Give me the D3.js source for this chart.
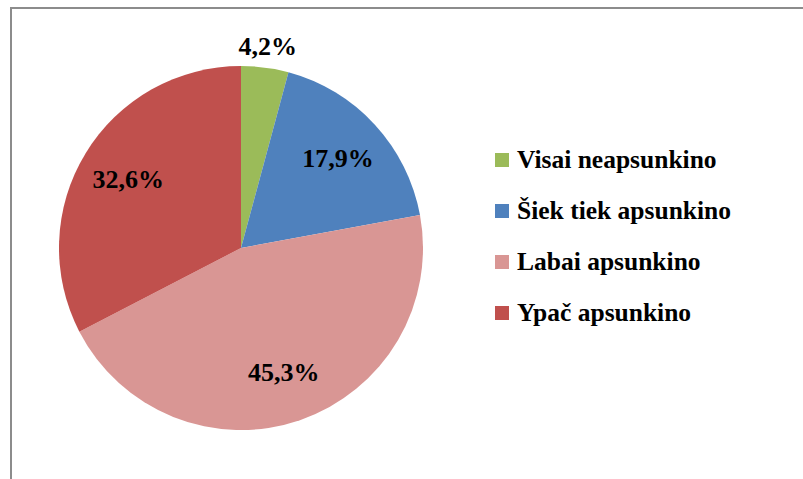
<!DOCTYPE html>
<meta charset="utf-8">
<script src="https://d3js.org/d3.v7.min.js"></script>
<style>
  body { margin: 0; background: #fff; }
</style>
<div id="my_dataviz"></div>
<script>
// chart data
var categories = ["Visai neapsunkino", "Šiek tiek apsunkino", "Labai apsunkino", "Ypač apsunkino"];
var values = [4.2, 17.9, 45.3, 32.6];
var labels = ["4,2%", "17,9%", "45,3%", "32,6%"];
var colors = ["#9BBB59", "#4F81BD", "#D99694", "#C0504D"];

var width = 803, height = 479,
    cx = 241, cy = 248,
    radius = 182;

var svg = d3.select("#my_dataviz")
  .append("svg")
    .attr("width", width)
    .attr("height", height);

// frame (top and left edges visible)
svg.append("path")
  .attr("d", "M11,479 V8 H803")
  .attr("fill", "none")
  .attr("stroke", "#8c8c8c")
  .attr("stroke-width", 2);

var g = svg.append("g")
  .attr("transform", "translate(" + cx + "," + cy + ")");

var pie = d3.pie().sort(null).value(function(d) { return d; });
var arcs = pie(values);

var arc = d3.arc().innerRadius(0).outerRadius(radius);

g.selectAll("path.slice")
  .data(arcs)
  .enter()
  .append("path")
    .attr("class", "slice")
    .attr("d", arc)
    .attr("fill", function(d, i) { return colors[i]; });

// data labels: inside for big slices, outside for the small one
var labelArc = d3.arc().innerRadius(132).outerRadius(132);
var outArc = d3.arc().innerRadius(203).outerRadius(203);

g.selectAll("text.lbl")
  .data(arcs)
  .enter()
  .append("text")
    .attr("class", "lbl")
    .attr("transform", function(d, i) {
      var c = values[i] < 10 ? outArc.centroid(d) : labelArc.centroid(d);
      return "translate(" + c[0] + "," + c[1] + ")";
    })
    .attr("text-anchor", "middle")
    .attr("dy", "0.33em")
    .style("font-family", "Liberation Serif")
    .style("font-weight", "bold")
    .style("font-size", "26px")
    .text(function(d, i) { return labels[i]; });

// legend
var legend = svg.append("g")
  .attr("transform", "translate(495,160)");

var rows = legend.selectAll("g")
  .data(categories)
  .enter()
  .append("g")
    .attr("transform", function(d, i) { return "translate(0," + (i * 51) + ")"; });

rows.append("rect")
  .attr("x", 0)
  .attr("y", -7)
  .attr("width", 14)
  .attr("height", 14)
  .attr("fill", function(d, i) { return colors[i]; });

rows.append("text")
  .attr("x", 22)
  .attr("y", 0)
  .attr("dy", "0.33em")
  .style("font-family", "Liberation Serif")
  .style("font-weight", "bold")
  .style("font-size", "25.5px")
  .text(function(d) { return d; });
</script>
